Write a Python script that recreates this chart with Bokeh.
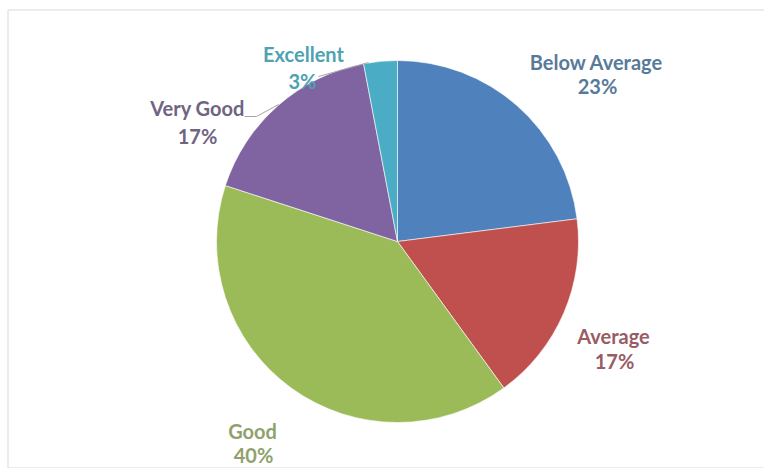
import math
from bokeh.plotting import figure
from bokeh.models import Range1d, ColumnDataSource
from bokeh.core.properties import value
from bokeh.embed import file_html
from bokeh.resources import INLINE

# ---- data ----
categories = ["Below Average", "Average", "Good", "Very Good", "Excellent"]
percents = [23, 17, 40, 17, 3]
slice_colors = ["#4F81BD", "#C0504D", "#9BBB59", "#8064A2", "#4BACC6"]
label_colors = ["#587a9a", "#985c64", "#8fa26e", "#6f6482", "#4ea2b2"]

W, H = 764, 468
def Y(py):
    return H - py
def X(px):
    return px

p = figure(width=W, height=H, output_backend="svg", toolbar_location=None,
           x_range=Range1d(0, W), y_range=Range1d(0, H), min_border=0)
p.axis.visible = False
p.grid.visible = False
p.outline_line_color = None
p.background_fill_color = "white"

# chart border (left, top, bottom)
p.segment(x0=[X(7.5), X(7.5), X(7.5)], y0=[Y(9.5), Y(9.5), Y(467.5)],
          x1=[X(7.5), X(W), X(W)], y1=[Y(467.5), Y(9.5), Y(467.5)],
          line_color="#d9d9d9", line_width=1)

total = sum(percents)
starts, ends = [], []
cum = 0
for v in percents:
    starts.append(math.pi / 2 - 2 * math.pi * cum / total)
    cum += v
    ends.append(math.pi / 2 - 2 * math.pi * cum / total)

cx, cy, r = X(397), Y(241), 181
src = ColumnDataSource(dict(start=starts, end=ends, color=slice_colors))
p.wedge(x=cx, y=cy, radius=r, start_angle="start", end_angle="end",
        direction="clock", fill_color="color", line_color="white",
        line_width=0.6, source=src)

# leader lines
p.line(x=[X(318), X(368)], y=[Y(76), Y(62)], line_color="#a6a6a6", line_width=1)
p.line(x=[X(244), X(256), X(278)], y=[Y(116), Y(116), Y(104)],
       line_color="#a6a6a6", line_width=1)

# label layout (page pixels)
name_px = [(596, 61), (613, 335), (252, 430), (197, 107), (303, 53)]
pct_px = [(597, 85), (614, 360), (253, 454), (197, 135), (302, 80)]

lab = ColumnDataSource(dict(
    nx=[X(a) for a, b in name_px], ny=[Y(b) for a, b in name_px],
    px=[X(a) for a, b in pct_px], py=[Y(b) for a, b in pct_px],
    name=categories, pct=[f"{v}%" for v in percents], color=label_colors))

for xf, yf, tf in (("nx", "ny", "name"), ("px", "py", "pct")):
    p.text(x=xf, y=yf, text=tf, source=lab, text_color="color",
           text_font=value("Lato"), text_font_style="bold",
           text_font_size="20px", text_align="center", text_baseline="middle")

open("out.html", "w").write(file_html(p, INLINE))
